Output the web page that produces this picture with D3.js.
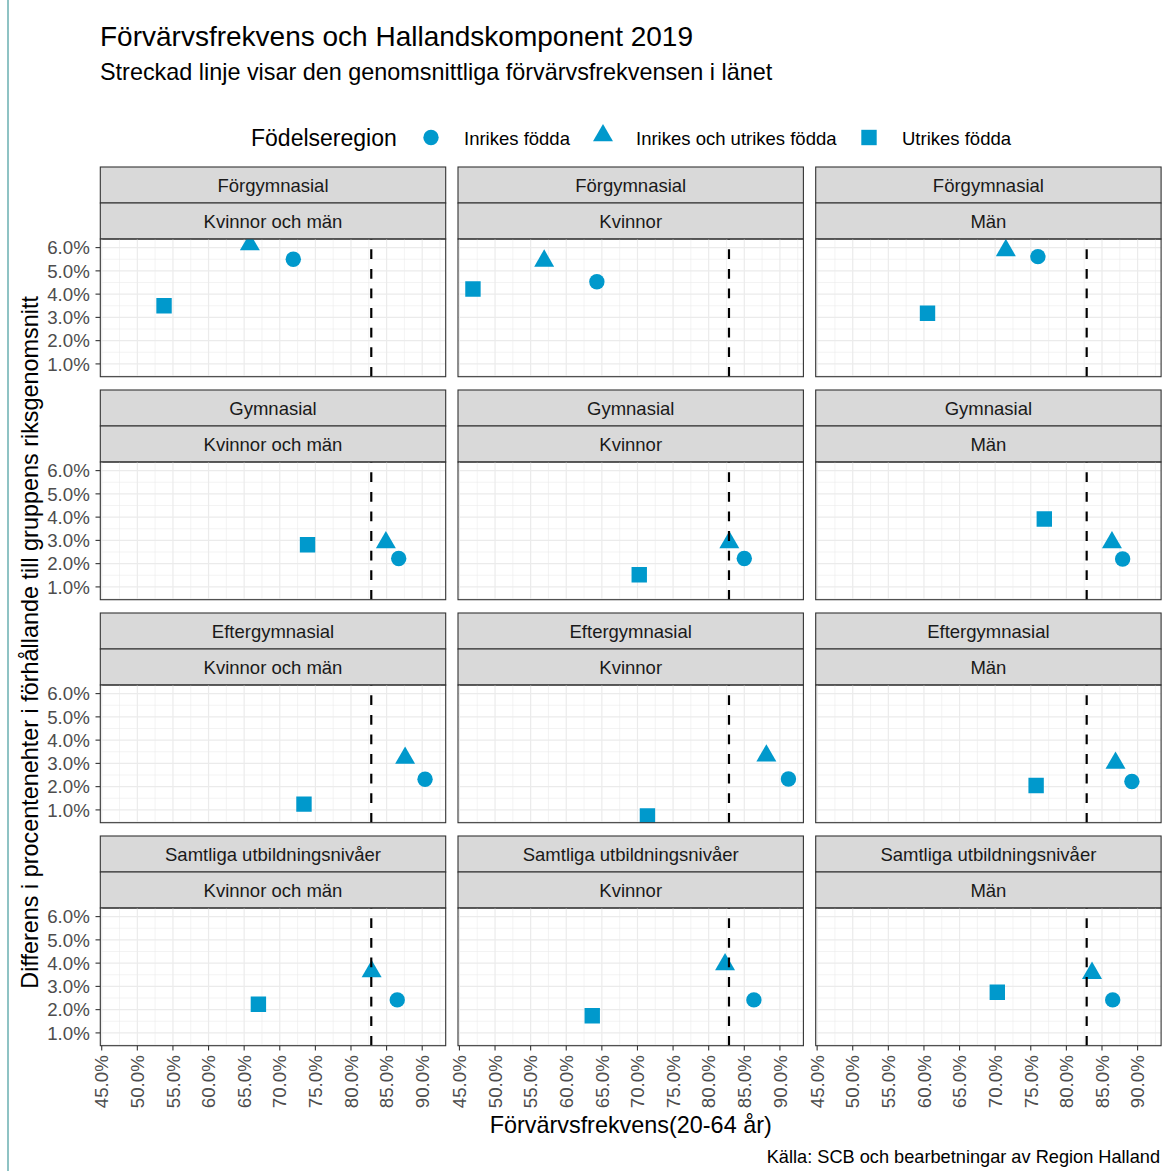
<!DOCTYPE html>
<html>
<head>
<meta charset="utf-8">
<script src="https://cdn.jsdelivr.net/npm/d3@7"></script>
<style>
  body { margin: 0; background: #fff; }
  text { font-family: "Liberation Sans", Arial, sans-serif; }
</style>
</head>
<body>
<div id="body"></div>
<script>
// data
var utbildning = ["Förgymnasial", "Gymnasial", "Eftergymnasial", "Samtliga utbildningsnivåer"];
var kon = ["Kvinnor och män", "Kvinnor", "Män"];
var regioner = ["Inrikes födda", "Inrikes och utrikes födda", "Utrikes födda"];

// one value per panel, row by row (utbildning), then column (kon)
var inrikesX = [71.9, 64.3, 76.0, 86.7, 85.0, 87.9, 90.4, 91.2, 89.2, 86.5, 86.35, 86.5];
var inrikesY = [5.5, 4.53, 5.61, 2.22, 2.22, 2.2, 2.32, 2.33, 2.22, 2.42, 2.42, 2.42];
var blandX = [65.8, 56.9, 71.5, 84.9, 82.9, 86.4, 87.6, 88.1, 86.9, 82.9, 82.3, 83.6];
var blandY = [6.13, 5.43, 5.88, 2.91, 2.91, 2.91, 3.23, 3.33, 3.02, 3.64, 3.94, 3.57];
var utrikesX = [53.75, 46.9, 60.5, 73.9, 70.25, 76.9, 73.4, 71.4, 75.75, 67.0, 63.65, 70.3];
var utrikesY = [3.5, 4.22, 3.18, 2.81, 1.52, 3.92, 1.25, 0.74, 2.05, 2.23, 1.74, 2.75];

var lansSnitt = 82.85;
var xTicks = [45, 50, 55, 60, 65, 70, 75, 80, 85, 90];
var yTicks = [1, 2, 3, 4, 5, 6];

var width = 1164, height = 1171;
var panelW = 345.4, panelH = 137.7, stripH = 36;
var colLeft = [100.3, 458.0, 815.7];
var rowTop = [239, 462, 685, 908];
var blue = "#0099cc";

var svg = d3.select('#body')
  .append('svg')
  .attr('width', width)
  .attr('height', height);

// frame line at the left
svg.append('line')
  .attr('x1', 8).attr('x2', 8).attr('y1', 0).attr('y2', height)
  .style('stroke', '#6aafb0').style('stroke-width', 1.5);

// titles
svg.append('text').attr('x', 100).attr('y', 46)
  .style('font-size', '28px').text('Förvärvsfrekvens och Hallandskomponent 2019');
svg.append('text').attr('x', 100).attr('y', 80)
  .style('font-size', '23.4px').text('Streckad linje visar den genomsnittliga förvärvsfrekvensen i länet');

var x = d3.scaleLinear().domain([44.8, 93.3]).range([0, panelW]);
var y = d3.scaleLinear().domain([0.45, 6.37]).range([panelH, 0]);

var shapes = [d3.symbolCircle, d3.symbolTriangle, d3.symbolSquare];
var sizes = [186, 173, 237];

// legend
var legend = svg.append('g');
legend.append('text').attr('x', 251).attr('y', 146)
  .style('font-size', '23px').text('Födelseregion');
var legX = [431, 603, 869];
regioner.forEach(function(r, i) {
  legend.append('path')
    .attr('d', d3.symbol().type(shapes[i]).size(sizes[i])())
    .attr('transform', 'translate(' + legX[i] + ',' + (i == 1 ? 135.5 : 137.5) + ')')
    .style('fill', blue);
  legend.append('text').attr('x', legX[i] + 33).attr('y', 144.5)
    .style('font-size', '18.5px').text(r);
});

var series = [
  {xs: inrikesX, ys: inrikesY},
  {xs: blandX, ys: blandY},
  {xs: utrikesX, ys: utrikesY}
];

utbildning.forEach(function(u, row) {
  kon.forEach(function(k, col) {
    var idx = row * 3 + col;
    var px = colLeft[col], py = rowTop[row];
    var g = svg.append('g').attr('transform', 'translate(' + px + ',' + py + ')');

    // strips
    [u, k].forEach(function(lab, s) {
      var sy = -2 * stripH + s * stripH;
      g.append('rect').attr('x', 0).attr('y', sy)
        .attr('width', panelW).attr('height', stripH)
        .style('fill', '#d9d9d9').style('stroke', '#333').style('stroke-width', 1.1);
      g.append('text').attr('x', panelW / 2).attr('y', sy + stripH / 2 + 0.8)
        .attr('dy', '0.35em').attr('text-anchor', 'middle')
        .style('font-size', '18.5px').style('fill', '#1a1a1a').text(lab);
    });

    var clipId = 'clip' + idx;
    g.append('clipPath').attr('id', clipId)
      .append('rect').attr('width', panelW).attr('height', panelH);
    var p = g.append('g').attr('clip-path', 'url(#' + clipId + ')');

    // grid: minor then major
    var xMinor = xTicks.map(function(t) { return t + 2.5; });
    var yMinor = [0.5].concat(yTicks.map(function(t) { return t + 0.5; })).filter(function(t) { return t < 6.37; });
    p.selectAll('.xmin').data(xMinor).enter().append('line')
      .attr('x1', x).attr('x2', x).attr('y1', 0).attr('y2', panelH)
      .style('stroke', '#ebebeb').style('stroke-width', 0.6);
    p.selectAll('.ymin').data(yMinor).enter().append('line')
      .attr('y1', y).attr('y2', y).attr('x1', 0).attr('x2', panelW)
      .style('stroke', '#ebebeb').style('stroke-width', 0.6);
    p.selectAll('.xmaj').data(xTicks).enter().append('line')
      .attr('x1', x).attr('x2', x).attr('y1', 0).attr('y2', panelH)
      .style('stroke', '#ebebeb').style('stroke-width', 1.2);
    p.selectAll('.ymaj').data(yTicks).enter().append('line')
      .attr('y1', y).attr('y2', y).attr('x1', 0).attr('x2', panelW)
      .style('stroke', '#ebebeb').style('stroke-width', 1.2);

    // points
    series.forEach(function(s, i) {
      p.append('path')
        .attr('d', d3.symbol().type(shapes[i]).size(sizes[i])())
        .attr('transform', 'translate(' + x(s.xs[idx]) + ',' + y(s.ys[idx]) + ')')
        .style('fill', blue);
    });

    // dashed mean line, drawn bottom to top
    p.append('line')
      .attr('x1', x(lansSnitt)).attr('x2', x(lansSnitt))
      .attr('y1', panelH).attr('y2', 0)
      .style('stroke', '#000').style('stroke-width', 2.2)
      .style('stroke-dasharray', '9.8,9.8');

    g.append('rect').attr('width', panelW).attr('height', panelH)
      .style('fill', 'none').style('stroke', '#333').style('stroke-width', 1.1);

    // y axis on first column
    if (col == 0) {
      var ya = g.append('g');
      ya.selectAll('line').data(yTicks).enter().append('line')
        .attr('x1', -4.8).attr('x2', 0).attr('y1', y).attr('y2', y)
        .style('stroke', '#333').style('stroke-width', 1.1);
      ya.selectAll('text').data(yTicks).enter().append('text')
        .attr('x', -10.5).attr('y', y).attr('dy', '0.36em')
        .attr('text-anchor', 'end')
        .style('font-size', '18.7px').style('fill', '#4d4d4d')
        .text(function(d) { return d3.format('.1f')(d) + '%'; });
    }
    // x axis on last row
    if (row == utbildning.length - 1) {
      var xa = g.append('g').attr('transform', 'translate(0,' + panelH + ')');
      xa.selectAll('line').data(xTicks).enter().append('line')
        .attr('x1', x).attr('x2', x).attr('y1', 0).attr('y2', 4.8)
        .style('stroke', '#333').style('stroke-width', 1.1);
      xa.selectAll('text').data(xTicks).enter().append('text')
        .attr('transform', function(d) { return 'translate(' + x(d) + ',' + 9.5 + ') rotate(-90)'; })
        .attr('dy', '0.36em').attr('text-anchor', 'end')
        .style('font-size', '18.7px').style('fill', '#4d4d4d')
        .text(function(d) { return d3.format('.1f')(d) + '%'; });
    }
  });
});

// axis titles and caption
svg.append('text')
  .attr('transform', 'translate(38,' + ((rowTop[0] + rowTop[3] + panelH) / 2) + ') rotate(-90)')
  .attr('text-anchor', 'middle').style('font-size', '23.4px')
  .text('Differens i procentenehter i förhållande till gruppens riksgenomsnitt');
svg.append('text')
  .attr('x', (colLeft[0] + colLeft[2] + panelW) / 2).attr('y', 1133)
  .attr('text-anchor', 'middle').style('font-size', '23.4px')
  .text('Förvärvsfrekvens(20-64 år)');
svg.append('text')
  .attr('x', 1160).attr('y', 1163).attr('text-anchor', 'end')
  .style('font-size', '18.2px').text('Källa: SCB och bearbetningar av Region Halland');
</script>
</body>
</html>
